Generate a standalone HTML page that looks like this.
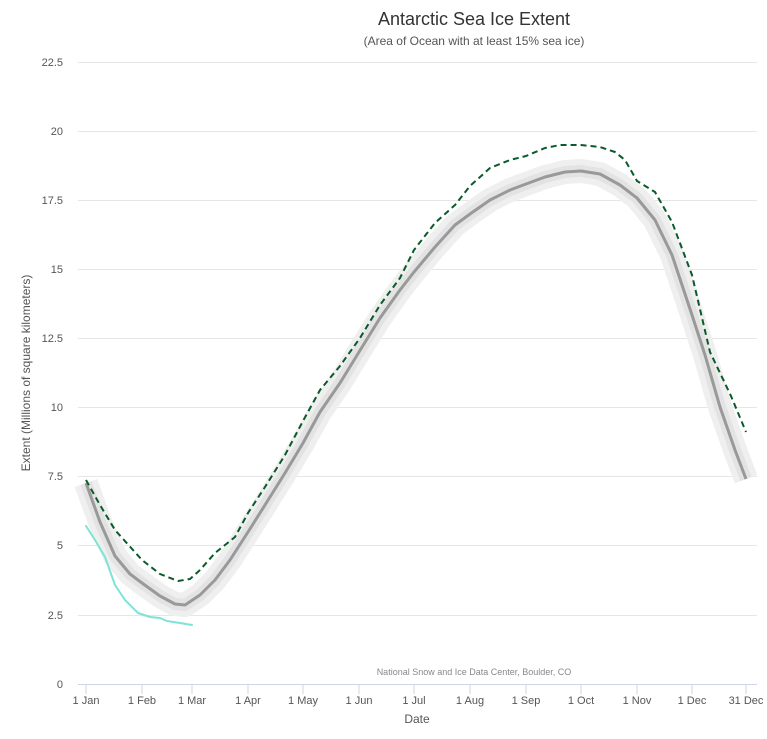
<!DOCTYPE html>
<html><head><style>
body{margin:0;background:#fff}
svg{display:block;font-family:"Liberation Sans",sans-serif}
</style></head><body>
<svg width="767" height="739" viewBox="0 0 767 739">
<text x="474" y="25" text-anchor="middle" font-size="18" fill="#333">Antarctic Sea Ice Extent</text>
<text x="474" y="45" text-anchor="middle" font-size="12" fill="#555">(Area of Ocean with at least 15% sea ice)</text>
<g stroke="#e6e6e6" stroke-width="1">
<line x1="78" x2="757" y1="62.5" y2="62.5"/><line x1="78" x2="757" y1="131.5" y2="131.5"/>
<line x1="78" x2="757" y1="200.5" y2="200.5"/><line x1="78" x2="757" y1="269.5" y2="269.5"/>
<line x1="78" x2="757" y1="338.5" y2="338.5"/><line x1="78" x2="757" y1="407.5" y2="407.5"/>
<line x1="78" x2="757" y1="476.5" y2="476.5"/><line x1="78" x2="757" y1="545.5" y2="545.5"/>
<line x1="78" x2="757" y1="615.5" y2="615.5"/>
</g>
<line x1="78" x2="757" y1="684.5" y2="684.5" stroke="#ccd6eb"/>
<g stroke="#ccd6eb">
<line x1="86" x2="86" y1="684" y2="694"/><line x1="142" x2="142" y1="684" y2="694"/><line x1="192" x2="192" y1="684" y2="694"/>
<line x1="248" x2="248" y1="684" y2="694"/><line x1="303" x2="303" y1="684" y2="694"/><line x1="359" x2="359" y1="684" y2="694"/>
<line x1="414" x2="414" y1="684" y2="694"/><line x1="470" x2="470" y1="684" y2="694"/><line x1="526" x2="526" y1="684" y2="694"/>
<line x1="581" x2="581" y1="684" y2="694"/><line x1="637" x2="637" y1="684" y2="694"/><line x1="692" x2="692" y1="684" y2="694"/>
<line x1="746" x2="746" y1="684" y2="694"/>
</g>
<g font-size="11" fill="#555" text-anchor="end">
<text x="63" y="66">22.5</text><text x="63" y="135">20</text><text x="63" y="204">17.5</text>
<text x="63" y="273">15</text><text x="63" y="342">12.5</text><text x="63" y="411">10</text>
<text x="63" y="480">7.5</text><text x="63" y="549">5</text><text x="63" y="619">2.5</text><text x="63" y="688">0</text>
</g>
<g font-size="11" fill="#555" text-anchor="middle">
<text x="86" y="704">1 Jan</text><text x="142" y="704">1 Feb</text><text x="192" y="704">1 Mar</text>
<text x="248" y="704">1 Apr</text><text x="303" y="704">1 May</text><text x="359" y="704">1 Jun</text>
<text x="414" y="704">1 Jul</text><text x="470" y="704">1 Aug</text><text x="526" y="704">1 Sep</text>
<text x="581" y="704">1 Oct</text><text x="637" y="704">1 Nov</text><text x="692" y="704">1 Dec</text>
<text x="746" y="704">31 Dec</text>
</g>
<text x="417" y="723" text-anchor="middle" font-size="12" fill="#555">Date</text>
<text transform="translate(30,373) rotate(-90)" text-anchor="middle" font-size="12" fill="#555">Extent (Millions of square kilometers)</text>
<text x="474" y="675" text-anchor="middle" font-size="9" fill="#888">National Snow and Ice Data Center, Boulder, CO</text>
<g fill="none" stroke-linejoin="round" stroke-linecap="butt">
<polyline stroke="#efefef" stroke-width="24" points="86,483 100,522 115,556 130,574 142,583 160,596 175,604 185,605 200,595 215,580 230,560 248,532 265,505 285,473 303,443 320,412 340,383 359,352 380,318 400,290 414,272 435,247 455,225 470,214 490,200 510,190 526,184 545,177 565,172 581,171 600,174 620,185 637,198 655,220 672,255 692,315 705,355 720,407 735,450 746,479"/>
<polyline stroke="#e3e3e3" stroke-width="12" points="86,483 100,522 115,556 130,574 142,583 160,596 175,604 185,605 200,595 215,580 230,560 248,532 265,505 285,473 303,443 320,412 340,383 359,352 380,318 400,290 414,272 435,247 455,225 470,214 490,200 510,190 526,184 545,177 565,172 581,171 600,174 620,185 637,198 655,220 672,255 692,315 705,355 720,407 735,450 746,479"/>
<polyline stroke="#999" stroke-width="3" points="86,483 100,522 115,556 130,574 142,583 160,596 175,604 185,605 200,595 215,580 230,560 248,532 265,505 285,473 303,443 320,412 340,383 359,352 380,318 400,290 414,272 435,247 455,225 470,214 490,200 510,190 526,184 545,177 565,172 581,171 600,174 620,185 637,198 655,220 672,255 692,315 705,355 720,407 735,450 746,479"/>
<polyline stroke="#0b5a2a" stroke-width="2" stroke-dasharray="6,4" points="86,480 100,505 115,530 142,560 160,574 178,581 190,579 200,570 215,553 235,537 248,513 265,487 285,455 303,421 320,390 340,366 360,338 380,305 400,278 414,250 435,223 455,205 470,186 490,168 510,160 526,156 545,148 560,145 581,145 600,147 615,152 625,160 637,181 655,192 672,222 692,275 710,352 731,396 746,432"/>
<polyline stroke="#7ee3d6" stroke-width="2" stroke-linecap="round" points="86,526 95,540 105,557 115,585 125,600 138,613 150,617 160,618 167,621 180,623 192,625"/>
</g>
</svg>
</body></html>
